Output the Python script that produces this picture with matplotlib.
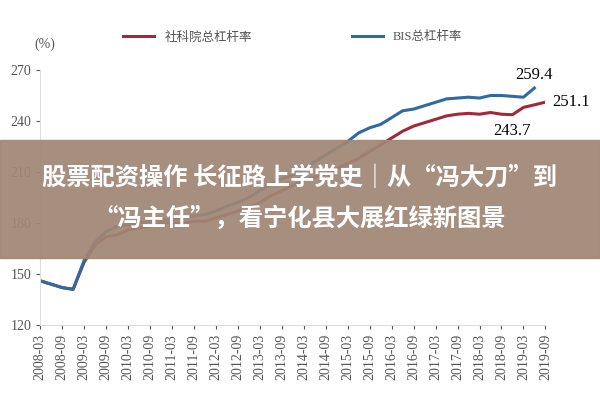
import matplotlib
matplotlib.use('Agg')
import matplotlib.pyplot as plt
import numpy as np
import pandas as pd

plt.rcParams['font.family'] = ['Liberation Serif', 'Noto Sans CJK SC']

cass = [146, 144, 142, 141,
        157, 167, 172, 173,
        176, 177, 178, 180,
        180, 180, 181, 181,
        183, 185, 187, 189,
        192, 196, 199, 202,
        205, 207, 209, 212,
        215, 218, 222, 226,
        230, 234, 237, 239,
        241, 243, 244, 244.5,
        244, 245, 244, 243.7,
        248, 249.5, 251.1]
bis = [146, 144, 142, 141,
       158, 169, 175, 178,
       179, 180, 181, 182,
       182, 183, 184, 185,
       187, 190, 192, 195,
       199, 203, 206, 208,
       212, 216, 220, 224,
       228, 233, 236, 238,
       242, 246, 247, 249,
       251, 253, 253.5, 254,
       253.5, 255, 255, 254.5,
       254, 259.4]
dates = pd.period_range('2008Q1', periods=len(cass), freq='Q')
tick_labels = [f'{y}-{m}' for y in range(2008, 2020) for m in ('03', '09')]

fig = plt.figure(figsize=(6, 4), dpi=100)
ax = fig.add_axes([0.067, 0.1875, 0.842, 0.6375])
x_cass = np.arange(len(cass))
x_bis = np.arange(len(bis))
ax.plot(x_cass, cass, color='#a3283a', lw=2.2, label='社科院总杠杆率')
ax.plot(x_bis, bis, color='#2f6aa3', lw=2.2, label='BIS总杠杆率')

ax.set_xlim(0, 46)
ax.set_ylim(120, 270)
ax.set_yticks([120, 150, 180, 210, 240, 270])
ax.set_xticks(np.arange(0, 47, 2))
ax.set_xticklabels(tick_labels, rotation=90)
ax.tick_params(labelsize=10, colors='#555555', length=3)
for s in ['top', 'right']:
    ax.spines[s].set_visible(False)
for s in ['left', 'bottom']:
    ax.spines[s].set_color('#dddddd')

ax.text(x_bis[-1], bis[-1] + 3, '259.4', fontsize=12, ha='center', va='bottom')
ax.text(x_cass[-1] + 0.6, cass[-1], '251.1', fontsize=12, ha='left', va='center')
ax.text(43, cass[43] - 5, '243.7', fontsize=12, ha='center', va='top')
ax.text(-0.5, 283, '(%)', fontsize=10, color='#555555')

ax.legend(loc='lower center', bbox_to_anchor=(0.5, 1.06), ncol=2, frameon=False,
          fontsize=9, handlelength=2.5, columnspacing=8, labelcolor='#555555')

fig.patches.append(plt.Rectangle((0, 0.355), 1, 0.295, transform=fig.transFigure,
                                 color='#a08775', alpha=0.93, zorder=5))
fig.text(0.5, 0.555, '股票配资操作 长征路上学党史｜从“冯大刀”到', fontsize=17.5, color='white',
         ha='center', va='center', fontweight='bold', family=['Noto Sans CJK SC'], zorder=6)
fig.text(0.5, 0.455, '“冯主任”，看宁化县大展红绿新图景', fontsize=17.5, color='white',
         ha='center', va='center', fontweight='bold', family=['Noto Sans CJK SC'], zorder=6)

fig.savefig('out.png')
